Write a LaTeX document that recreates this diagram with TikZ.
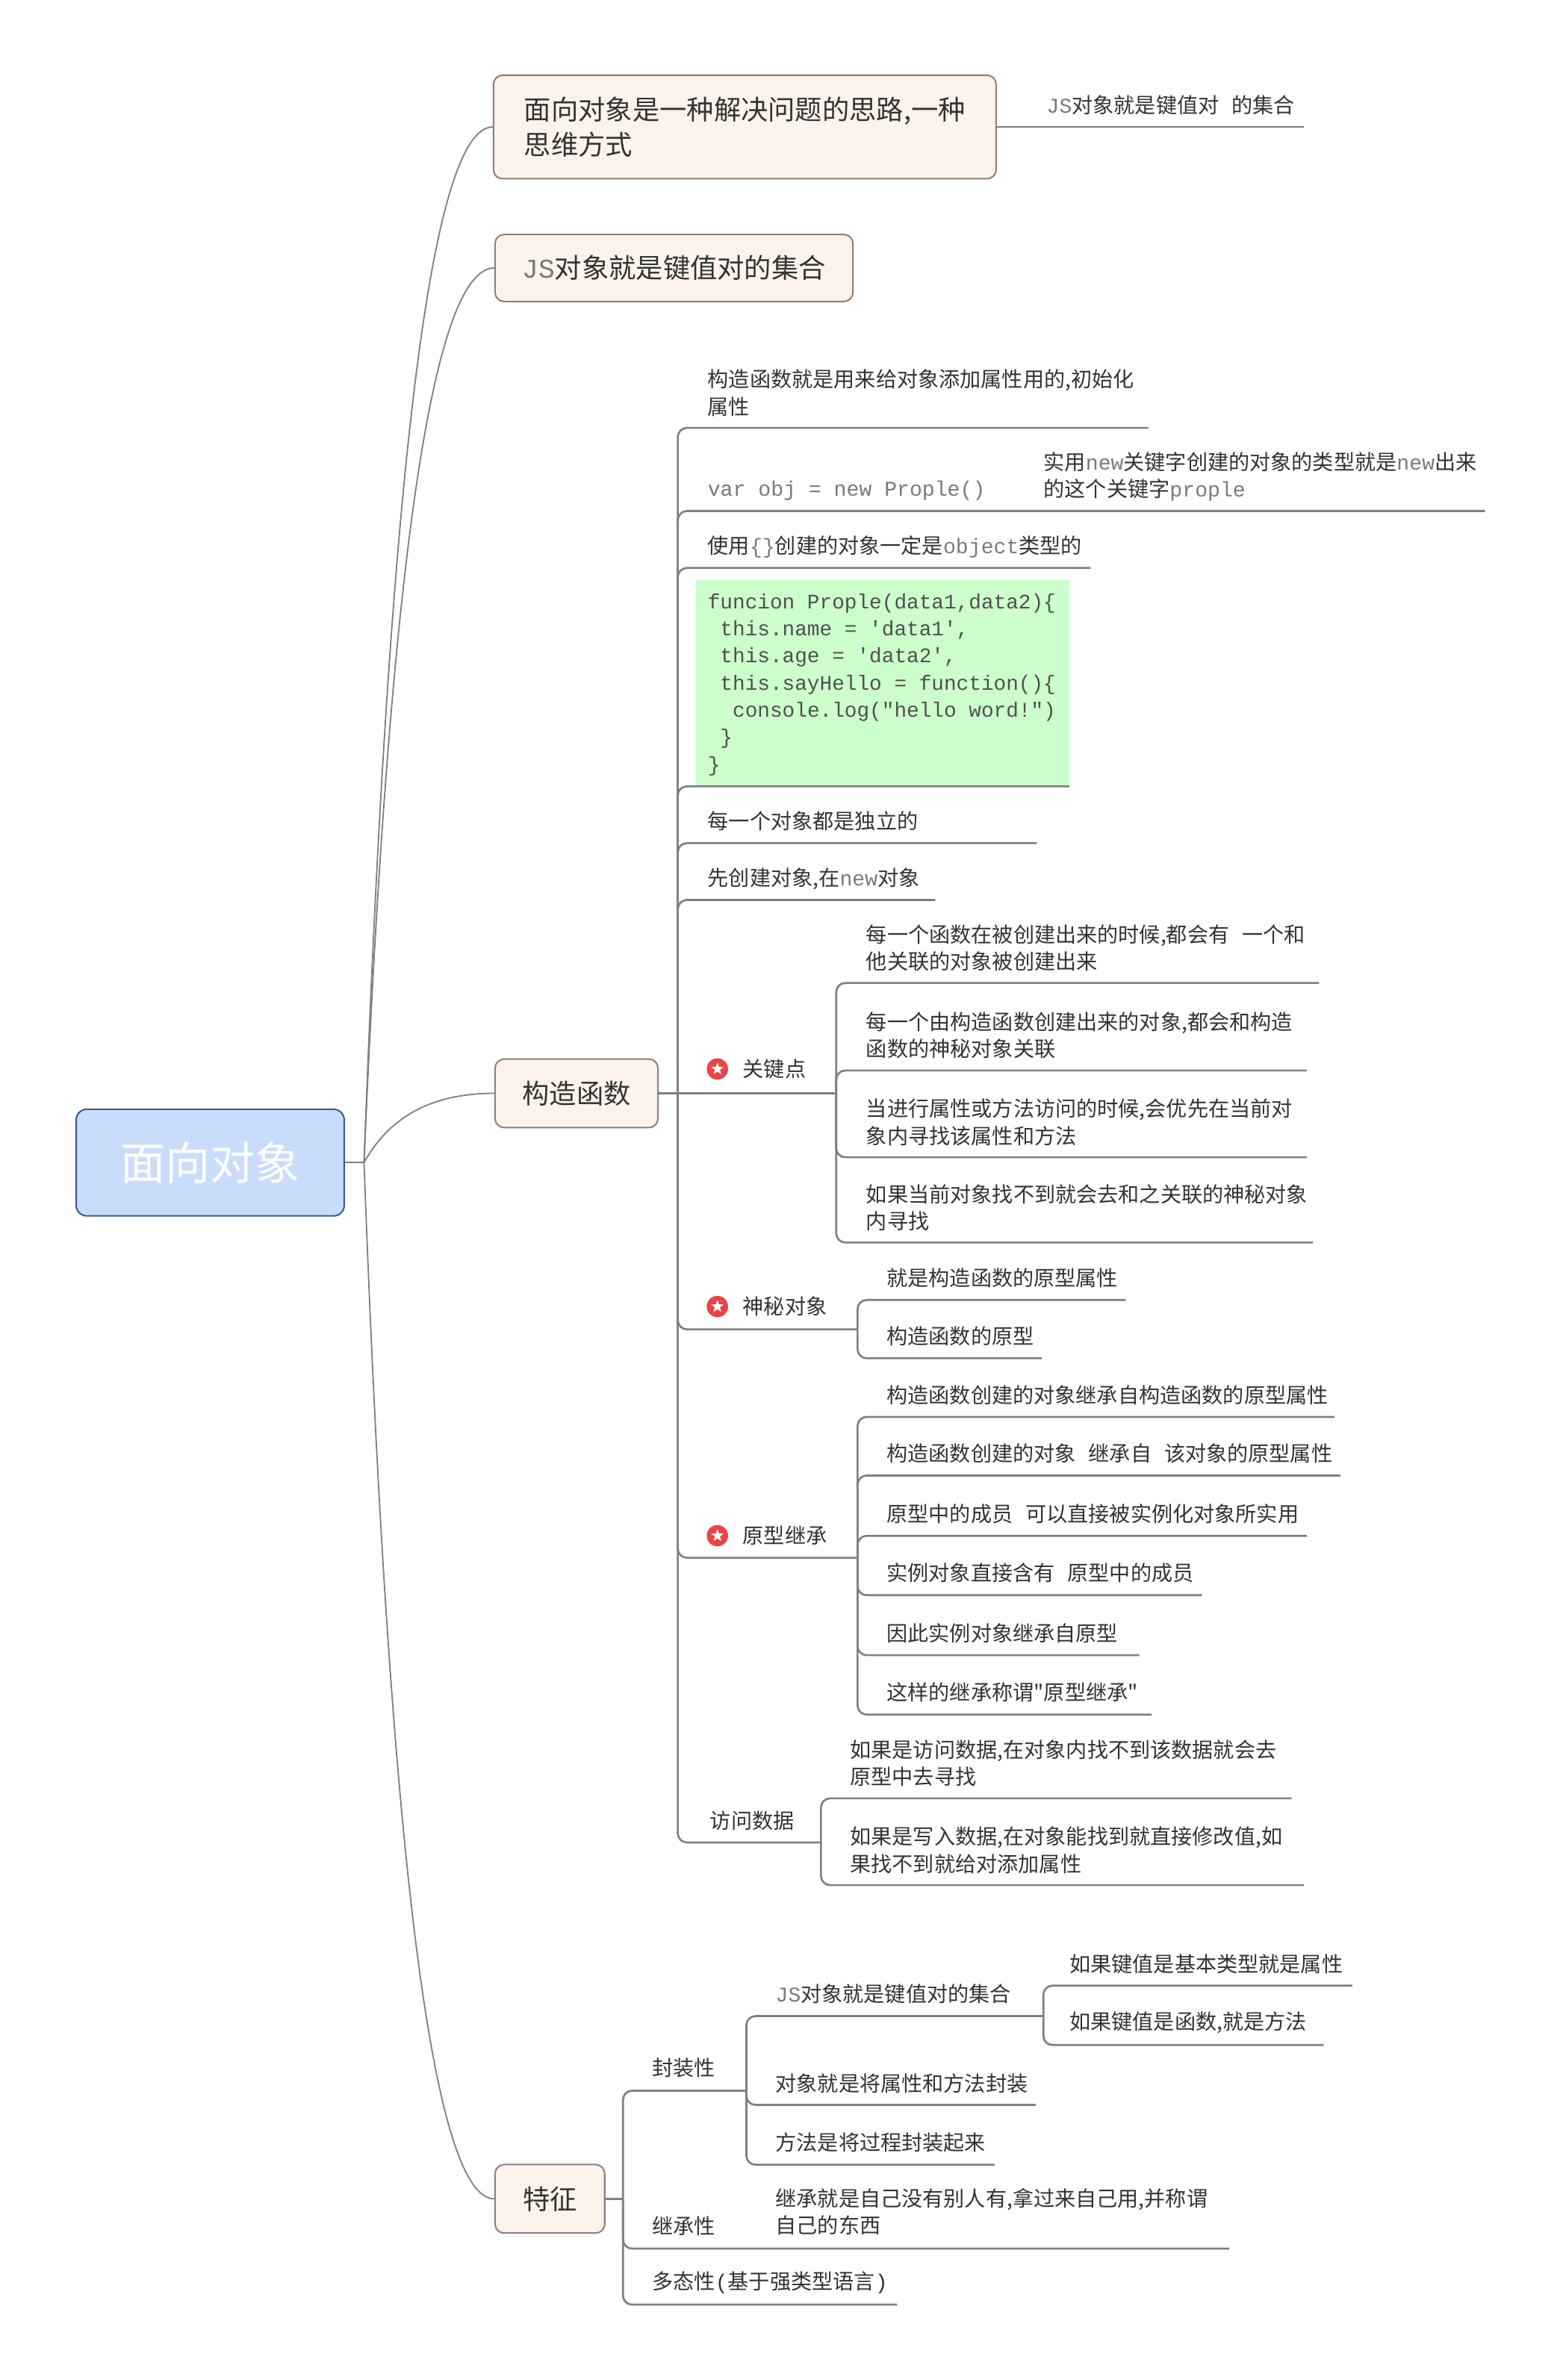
\documentclass[tikz,border=0pt]{standalone}
\usepackage{fontspec}
\setmainfont{Noto Sans CJK SC}
\newfontfamily\codefont{Liberation Mono}
\usetikzlibrary{shapes.geometric}

\definecolor{linegray}{HTML}{808080}
\definecolor{textdark}{HTML}{333333}
\definecolor{monogray}{HTML}{7A7A7A}
\definecolor{codegray}{HTML}{505050}
\definecolor{topicfill}{HTML}{FDF3EA}
\definecolor{topicline}{HTML}{8C8279}
\definecolor{rootfill}{HTML}{C9DCFB}
\definecolor{rootline}{HTML}{3C5A8C}
\definecolor{codefill}{HTML}{CCFFCC}
\definecolor{keyred}{HTML}{E84545}

\newcommand\monotxt[1]{{\codefont\color{monogray}#1}}
\newcommand\wgap{\hspace{0.6em}}
\newcommand\codeindent{\hphantom{x}}

\begin{document}
\begin{tikzpicture}[x=1pt, y=-1pt,
    trunk/.style={draw=linegray, line width=0.9pt},
    branch/.style={draw=linegray, line width=1.3pt, rounded corners=6pt},
    topic/.style={draw=topicline, fill=topicfill, line width=1pt, rounded corners=6pt, inner sep=0pt, text=textdark, font=\fontsize{17.8}{23.3}\selectfont},
    leaf/.style={anchor=west, inner sep=0pt, align=left, text=textdark, font=\fontsize{13.8}{17.8}\selectfont},
    keyicon/.style={circle, fill=keyred, minimum size=14pt, inner sep=0pt},
    keystar/.style={star, star points=5, star point ratio=2.4, fill=white, minimum size=8.5pt, inner sep=0pt}]
    % page
    \path[use as bounding box, fill=white] (0,0) rectangle (1024,1563);

    % root and main topics
    \node[draw=rootline, fill=rootfill, line width=1pt, rounded corners=7pt, minimum width=176pt, minimum height=70pt, text=white, font=\fontsize{29.5}{30}\selectfont] (root) at (138,763.5) {面向对象};
    \node[topic, minimum width=330pt, minimum height=68pt, align=left] (idea) at (489,83.4) {面向对象是一种解决问题的思路,一种\\思维方式};
    \node[topic, minimum width=235pt, minimum height=44pt] (jsobj) at (442.5,176) {\monotxt{JS}对象就是键值对的集合};
    \node[topic, minimum width=107pt, minimum height=45pt] (ctor) at (378.5,718) {构造函数};
    \node[topic, minimum width=72pt, minimum height=45pt] (feat) at (361,1444) {特征};

    % curves from the root
    \coordinate (hub) at (239,763.5);
    \draw[trunk] (root.east) -- (hub);
    \foreach \t/\d in {idea/-453.4, jsobj/-391.7, ctor/-30.3, feat/453.7}
        \draw[trunk] (hub) .. controls +(16.7,\d) and +(-40.7,0) .. (\t.west);

    % first topic
    \node[leaf] (idea-js) at (687,68.8) {\monotxt{JS}对象就是键值对\wgap 的集合};
    \coordinate (idea-js-e) at (856,83.4);
    \draw[branch] (idea.east) -- (idea-js-e);

    % constructor
    \coordinate (ctor-j) at (445,718);
    \foreach \nm/\cy/\ly/\ex/\txt in {
        c1/258/281/754/{构造函数就是用来给对象添加属性用的,初始化\\属性},
        c2/322/335.6/975/{\monotxt{var obj = new Prople()}},
        c3/359/373/716/{使用\monotxt{\{\}}创建的对象一定是\monotxt{object}类型的},
        c5/539/553.7/680.7/{每一个对象都是独立的},
        c6/577.3/591/614/{先创建对象,在\monotxt{new}对象}}
    {
        \node[leaf] (\nm) at (464.5,\cy) {\txt};
        \coordinate (\nm-e) at (\ex,\ly);
        \draw[branch] (ctor-j) |- (\nm-e);
    }
    \node[leaf] (c2-x) at (685,313) {实用\monotxt{new}关键字创建的对象的类型就是\monotxt{new}出来\\的这个关键字\monotxt{prople}};

    % code sample
    \node[fill=codefill, minimum width=245pt, minimum height=135.5pt, inner sep=0pt] (c4) at (579.5,448.7) {};
    \node[leaf, text=codegray, font=\codefont\fontsize{13.6}{17.8}\selectfont] (c4-code) at (464.5,449.6)
        {funcion Prople(data1,data2)\{\\
         \codeindent this.name = \textquotesingle data1\textquotesingle,\\
         \codeindent this.age = \textquotesingle data2\textquotesingle,\\
         \codeindent this.sayHello = function()\{\\
         \codeindent\codeindent console.log(\textquotedbl hello word!\textquotedbl)\\
         \codeindent\}\\
         \}};
    \coordinate (c4-e) at (702,516.4);
    \draw[branch] (ctor-j) |- (c4-e);

    % key points with star icons
    \foreach \nm/\cy/\ly/\ex/\txt in {kp/702/718/549/关键点, sm/858/873/563/神秘对象, yx/1008.5/1023/563/原型继承}
    {
        \node[keyicon] (\nm-i) at (471,\cy) {};
        \node[keystar] (\nm-s) at (\nm-i) {};
        \node[leaf] (\nm) at (487.5,\cy) {\txt};
        \coordinate (\nm-j) at (\ex,\ly);
    }
    \draw[branch] (ctor.east) -- (kp-j);
    \draw[branch] (ctor-j) |- (sm-j);
    \draw[branch] (ctor-j) |- (yx-j);
    \node[leaf] (fw) at (466,1195.5) {访问数据};
    \coordinate (fw-j) at (539,1210);
    \draw[branch] (ctor-j) |- (fw-j);

    % 关键点
    \foreach \nm/\cy/\ly/\ex/\txt in {
        k1/622.5/645.5/866/{每一个函数在被创建出来的时候,都会有\wgap 一个和\\他关联的对象被创建出来},
        k2/680/703/858/{每一个由构造函数创建出来的对象,都会和构造\\函数的神秘对象关联},
        k3/737/760/858/{当进行属性或方法访问的时候,会优先在当前对\\象内寻找该属性和方法},
        k4/793/816/862/{如果当前对象找不到就会去和之关联的神秘对象\\内寻找}}
    {
        \node[leaf] (\nm) at (568.5,\cy) {\txt};
        \coordinate (\nm-e) at (\ex,\ly);
        \draw[branch] (kp-j) |- (\nm-e);
    }

    % 神秘对象
    \foreach \nm/\cy/\ly/\ex/\txt in {s1/839.2/853.7/739/{就是构造函数的原型属性}, s2/877.5/892/684/{构造函数的原型}}
    {
        \node[leaf] (\nm) at (582,\cy) {\txt};
        \coordinate (\nm-e) at (\ex,\ly);
        \draw[branch] (sm-j) |- (\nm-e);
    }

    % 原型继承
    \foreach \nm/\cy/\ly/\ex/\txt in {
        y1/916/930.5/876/{构造函数创建的对象继承自构造函数的原型属性},
        y2/954.5/969/880/{构造函数创建的对象\wgap 继承自\wgap 该对象的原型属性},
        y3/994/1008.6/858/{原型中的成员\wgap 可以直接被实例化对象所实用},
        y4/1033/1047.6/789/{实例对象直接含有\wgap 原型中的成员},
        y5/1072.5/1087/748/{因此实例对象继承自原型},
        y6/1111.5/1126/756/{这样的继承称谓\textquotedbl 原型继承\textquotedbl}}
    {
        \node[leaf] (\nm) at (582,\cy) {\txt};
        \coordinate (\nm-e) at (\ex,\ly);
        \draw[branch] (yx-j) |- (\nm-e);
    }

    % 访问数据
    \foreach \nm/\cy/\ly/\ex/\txt in {
        f1/1158/1181/848/{如果是访问数据,在对象内找不到该数据就会去\\原型中去寻找},
        f2/1215/1238/856/{如果是写入数据,在对象能找到就直接修改值,如\\果找不到就给对添加属性}}
    {
        \node[leaf] (\nm) at (558,\cy) {\txt};
        \coordinate (\nm-e) at (\ex,\ly);
        \draw[branch] (fw-j) |- (\nm-e);
    }

    % features
    \coordinate (feat-j) at (409,1444);
    \draw[branch] (feat.east) -- (feat-j);
    \foreach \nm/\cy/\ly/\ex/\txt in {t1/1358/1373/490/{封装性}, t2/1462/1476.7/807/{继承性}, t3/1499/1513.5/589/{多态性{\codefont (}基于强类型语言{\codefont )}}}
    {
        \node[leaf] (\nm) at (428,\cy) {\txt};
        \coordinate (\nm-e) at (\ex,\ly);
        \draw[branch] (feat-j) |- (\nm-e);
    }
    \node[leaf] (t2-x) at (509,1452.5) {继承就是自己没有别人有,拿过来自己用,并称谓\\自己的东西};

    % 封装性
    \foreach \nm/\cy/\ly/\ex/\txt in {
        e1/1309.6/1324/685/{\monotxt{JS}对象就是键值对的集合},
        e2/1368/1382.3/680/{对象就是将属性和方法封装},
        e3/1407/1421.6/653/{方法是将过程封装起来}}
    {
        \node[leaf] (\nm) at (509,\cy) {\txt};
        \coordinate (\nm-e) at (\ex,\ly);
        \draw[branch] (t1-e) |- (\nm-e);
    }
    \foreach \nm/\cy/\ly/\ex/\txt in {g1/1289.6/1304/888/{如果键值是基本类型就是属性}, g2/1328.5/1343/869/{如果键值是函数,就是方法}}
    {
        \node[leaf] (\nm) at (702,\cy) {\txt};
        \coordinate (\nm-e) at (\ex,\ly);
        \draw[branch] (e1-e) |- (\nm-e);
    }
\end{tikzpicture}
\end{document}
